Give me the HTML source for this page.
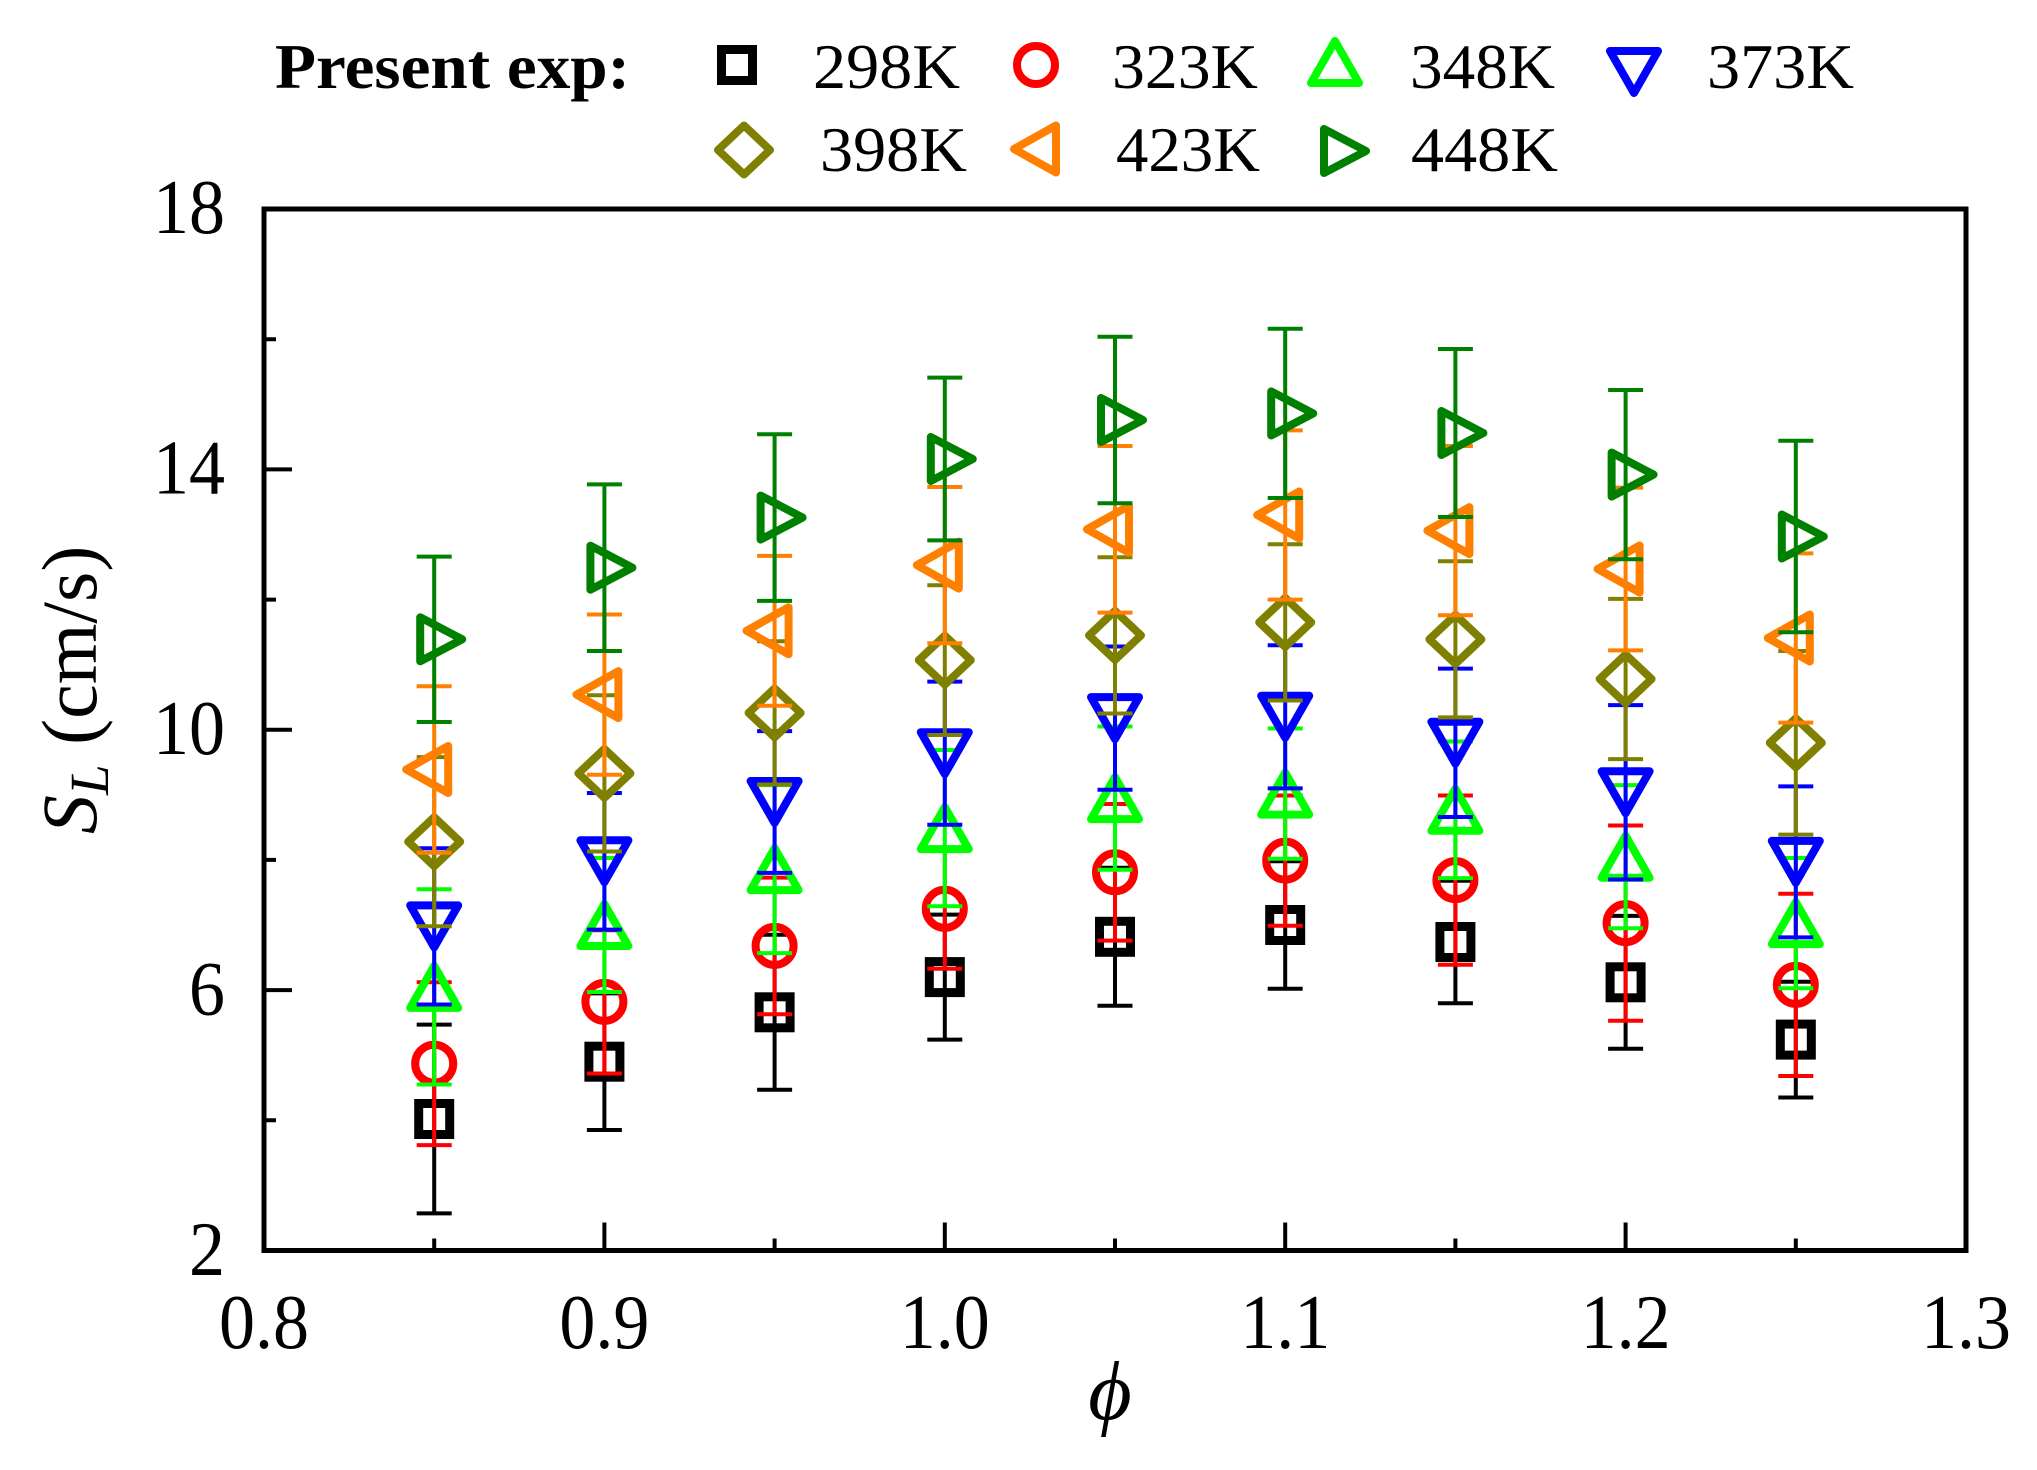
<!DOCTYPE html>
<html>
<head>
<meta charset="utf-8">
<style>
html,body{margin:0;padding:0;background:#fff;}
svg{display:block;}
text{font-family:"Liberation Serif","Times New Roman",serif;fill:#000;}
</style>
</head>
<body>
<svg width="2037" height="1470" viewBox="0 0 2037 1470" xmlns="http://www.w3.org/2000/svg" xmlns:xlink="http://www.w3.org/1999/xlink">
<defs>
  <g id="sq"><rect x="-15.5" y="-15.5" width="31" height="31" fill="none" stroke="#000" stroke-width="9"/></g>
  <g id="ci"><circle cx="0" cy="0" r="19" fill="none" stroke="#ff0000" stroke-width="8"/></g>
  <g id="tu"><polygon points="-24,21 24,21 0,-21" fill="none" stroke="#00ff00" stroke-width="8" stroke-linejoin="round"/></g>
  <g id="td"><polygon points="-24,-21 24,-21 0,21" fill="none" stroke="#0000ff" stroke-width="8" stroke-linejoin="round"/></g>
  <g id="di"><polygon points="0,-24.5 26,0 0,24.5 -26,0" fill="none" stroke="#808000" stroke-width="8" stroke-linejoin="round"/></g>
  <g id="tl"><polygon points="-28,0 14,-23.5 14,23.5" fill="none" stroke="#ff8000" stroke-width="8" stroke-linejoin="round"/></g>
  <g id="tr"><polygon points="-14,-22 -14,22 28,0" fill="none" stroke="#008000" stroke-width="8" stroke-linejoin="round"/></g>
</defs>

<rect x="0" y="0" width="2037" height="1470" fill="#fff"/>

<!-- Legend -->
<text x="275" y="88" font-size="64" font-weight="bold" textLength="355" lengthAdjust="spacingAndGlyphs">Present exp:</text>
<use href="#sq" xlink:href="#sq" x="737" y="65"/>
<text x="813" y="88" font-size="64" textLength="147" lengthAdjust="spacingAndGlyphs">298K</text>
<use href="#ci" xlink:href="#ci" x="1036" y="65"/>
<text x="1112" y="88" font-size="64" textLength="146" lengthAdjust="spacingAndGlyphs">323K</text>
<use href="#tu" xlink:href="#tu" x="1335" y="62"/>
<text x="1410" y="88" font-size="64" textLength="145" lengthAdjust="spacingAndGlyphs">348K</text>
<use href="#td" xlink:href="#td" x="1634" y="72"/>
<text x="1707" y="88" font-size="64" textLength="147" lengthAdjust="spacingAndGlyphs">373K</text>

<use href="#di" xlink:href="#di" x="744" y="150"/>
<text x="820" y="171" font-size="64" textLength="147" lengthAdjust="spacingAndGlyphs">398K</text>
<use href="#tl" xlink:href="#tl" x="1042" y="149"/>
<text x="1116" y="171" font-size="64" textLength="144" lengthAdjust="spacingAndGlyphs">423K</text>
<use href="#tr" xlink:href="#tr" x="1338" y="151"/>
<text x="1411" y="171" font-size="64" textLength="147" lengthAdjust="spacingAndGlyphs">448K</text>

<!-- Ticks -->
<g stroke="#000" stroke-width="4" fill="none">
  <path d="M604.4 1250.5v-28M944.8 1250.5v-28M1285.2 1250.5v-28M1625.6 1250.5v-28"/>
  <path d="M434.2 1250.5v-12M774.6 1250.5v-12M1115 1250.5v-12M1455.4 1250.5v-12M1795.8 1250.5v-12"/>
  <path d="M264 469.4h28M264 729.7h28M264 990.1h28"/>
  <path d="M264 339.2h12M264 599.6h12M264 859.9h12M264 1120.3h12"/>
</g>

<!-- Frame -->
<rect x="264" y="209" width="1702" height="1041.5" fill="none" stroke="#000" stroke-width="5"/>

<!-- Tick labels -->
<g font-size="72" text-anchor="end">
  <text transform="translate(225,233) scale(1,1.07)">18</text>
  <text transform="translate(225,493.5) scale(1,1.07)">14</text>
  <text transform="translate(225,754) scale(1,1.07)">10</text>
  <text transform="translate(225,1014.5) scale(1,1.07)">6</text>
  <text transform="translate(225,1275) scale(1,1.07)">2</text>
</g>
<g font-size="72" text-anchor="middle">
  <text transform="translate(264,1348) scale(1,1.07)">0.8</text>
  <text transform="translate(604.4,1348) scale(1,1.07)">0.9</text>
  <text transform="translate(944.8,1348) scale(1,1.07)">1.0</text>
  <text transform="translate(1285.2,1348) scale(1,1.07)">1.1</text>
  <text transform="translate(1625.6,1348) scale(1,1.07)">1.2</text>
  <text transform="translate(1966,1348) scale(1,1.07)">1.3</text>
</g>

<!-- Axis titles -->
<text transform="translate(96,834) rotate(-90)" font-size="78"><tspan font-style="italic">S</tspan><tspan font-style="italic" font-size="55" dy="12">L</tspan><tspan dy="-12"> (cm/s)</tspan></text>
<text x="1110" y="1419" font-size="84" font-style="italic" text-anchor="middle">ϕ</text>

<!-- 298K -->
<path stroke="#000" stroke-width="4" fill="none" d="M434.2 1024.6V1213.4M416.7 1024.6h35M416.7 1213.4h35M604.4 993.4V1130M586.9 993.4h35M586.9 1130h35M774.6 934.8V1089.8M757.1 934.8h35M757.1 1089.8h35M944.8 914.6V1039.6M927.3 914.6h35M927.3 1039.6h35M1115 867.8V1005.8M1097.5 867.8h35M1097.5 1005.8h35M1285.2 861.2V988.8M1267.7 861.2h35M1267.7 988.8h35M1455.4 880.8V1003.2M1437.9 880.8h35M1437.9 1003.2h35M1625.6 915.9V1048.7M1608.1 915.9h35M1608.1 1048.7h35M1795.8 981.7V1097.5M1778.3 981.7h35M1778.3 1097.5h35"/>
<use href="#sq" xlink:href="#sq" x="434.2" y="1119"/>
<use href="#sq" xlink:href="#sq" x="604.4" y="1061.7"/>
<use href="#sq" xlink:href="#sq" x="774.6" y="1012.3"/>
<use href="#sq" xlink:href="#sq" x="944.8" y="977.1"/>
<use href="#sq" xlink:href="#sq" x="1115" y="936.8"/>
<use href="#sq" xlink:href="#sq" x="1285.2" y="925"/>
<use href="#sq" xlink:href="#sq" x="1455.4" y="942"/>
<use href="#sq" xlink:href="#sq" x="1625.6" y="982.3"/>
<use href="#sq" xlink:href="#sq" x="1795.8" y="1039.6"/>

<!-- 323K -->
<path stroke="#ff0000" stroke-width="4" fill="none" d="M434.2 982.3V1145.1M416.7 982.3h35M416.7 1145.1h35M604.4 930.3V1073.5M586.9 930.3h35M586.9 1073.5h35M774.6 877.6V1014.2M757.1 877.6h35M757.1 1014.2h35M944.8 848.9V968.7M927.3 848.9h35M927.3 968.7h35M1115 804V940.6M1097.5 804h35M1097.5 940.6h35M1285.2 795.5V925.7M1267.7 795.5h35M1267.7 925.7h35M1455.4 795.5V964.7M1437.9 795.5h35M1437.9 964.7h35M1625.6 825.5V1020.7M1608.1 825.5h35M1608.1 1020.7h35M1795.8 893.8V1076M1778.3 893.8h35M1778.3 1076h35"/>
<use href="#ci" xlink:href="#ci" x="434.2" y="1063.7"/>
<use href="#ci" xlink:href="#ci" x="604.4" y="1001.9"/>
<use href="#ci" xlink:href="#ci" x="774.6" y="945.9"/>
<use href="#ci" xlink:href="#ci" x="944.8" y="908.8"/>
<use href="#ci" xlink:href="#ci" x="1115" y="872.3"/>
<use href="#ci" xlink:href="#ci" x="1285.2" y="860.6"/>
<use href="#ci" xlink:href="#ci" x="1455.4" y="880.1"/>
<use href="#ci" xlink:href="#ci" x="1625.6" y="923.1"/>
<use href="#ci" xlink:href="#ci" x="1795.8" y="984.9"/>

<!-- 348K -->
<path stroke="#00ff00" stroke-width="4" fill="none" d="M434.2 889.3V1084.5M416.7 889.3h35M416.7 1084.5h35M604.4 858V992M586.9 858h35M586.9 992h35M774.6 785.1V953.1M757.1 785.1h35M757.1 953.1h35M944.8 750V906.2M927.3 750h35M927.3 906.2h35M1115 726.5V869.7M1097.5 726.5h35M1097.5 869.7h35M1285.2 728.5V858.7M1267.7 728.5h35M1267.7 858.7h35M1455.4 741.5V878.1M1437.9 741.5h35M1437.9 878.1h35M1625.6 785.1V928.3M1608.1 785.1h35M1608.1 928.3h35M1795.8 858V988.2M1778.3 858h35M1778.3 988.2h35"/>
<use href="#tu" xlink:href="#tu" x="434.2" y="986.9"/>
<use href="#tu" xlink:href="#tu" x="604.4" y="925"/>
<use href="#tu" xlink:href="#tu" x="774.6" y="869.1"/>
<use href="#tu" xlink:href="#tu" x="944.8" y="828.1"/>
<use href="#tu" xlink:href="#tu" x="1115" y="798.1"/>
<use href="#tu" xlink:href="#tu" x="1285.2" y="793.6"/>
<use href="#tu" xlink:href="#tu" x="1455.4" y="809.8"/>
<use href="#tu" xlink:href="#tu" x="1625.6" y="856.7"/>
<use href="#tu" xlink:href="#tu" x="1795.8" y="923.1"/>

<!-- 373K -->
<path stroke="#0000ff" stroke-width="4" fill="none" d="M434.2 848.3V1004.5M416.7 848.3h35M416.7 1004.5h35M604.4 793V929.6M586.9 793h35M586.9 929.6h35M774.6 731.1V872.9M757.1 731.1h35M757.1 872.9h35M944.8 681.6V824.8M927.3 681.6h35M927.3 824.8h35M1115 646.5V789.7M1097.5 646.5h35M1097.5 789.7h35M1285.2 645.2V788.4M1267.7 645.2h35M1267.7 788.4h35M1455.4 668.6V817M1437.9 668.6h35M1437.9 817h35M1625.6 705.1V879.5M1608.1 705.1h35M1608.1 879.5h35M1795.8 786.4V937.4M1778.3 786.4h35M1778.3 937.4h35"/>
<use href="#td" xlink:href="#td" x="434.2" y="926.4"/>
<use href="#td" xlink:href="#td" x="604.4" y="861.3"/>
<use href="#td" xlink:href="#td" x="774.6" y="802"/>
<use href="#td" xlink:href="#td" x="944.8" y="753.2"/>
<use href="#td" xlink:href="#td" x="1115" y="718.1"/>
<use href="#td" xlink:href="#td" x="1285.2" y="716.8"/>
<use href="#td" xlink:href="#td" x="1455.4" y="742.8"/>
<use href="#td" xlink:href="#td" x="1625.6" y="792.3"/>
<use href="#td" xlink:href="#td" x="1795.8" y="861.9"/>

<!-- 398K -->
<path stroke="#808000" stroke-width="4" fill="none" d="M434.2 757.1V926.3M416.7 757.1h35M416.7 926.3h35M604.4 695.3V851.5M586.9 695.3h35M586.9 851.5h35M774.6 641.3V784.5M757.1 641.3h35M757.1 784.5h35M944.8 585.2V735M927.3 585.2h35M927.3 735h35M1115 557.3V713.5M1097.5 557.3h35M1097.5 713.5h35M1285.2 544.3V700.5M1267.7 544.3h35M1267.7 700.5h35M1455.4 561.2V717.4M1437.9 561.2h35M1437.9 717.4h35M1625.6 598.9V759.1M1608.1 598.9h35M1608.1 759.1h35M1795.8 651V834.6M1778.3 651h35M1778.3 834.6h35"/>
<use href="#di" xlink:href="#di" x="434.2" y="841.7"/>
<use href="#di" xlink:href="#di" x="604.4" y="773.4"/>
<use href="#di" xlink:href="#di" x="774.6" y="712.9"/>
<use href="#di" xlink:href="#di" x="944.8" y="660.1"/>
<use href="#di" xlink:href="#di" x="1115" y="635.4"/>
<use href="#di" xlink:href="#di" x="1285.2" y="622.4"/>
<use href="#di" xlink:href="#di" x="1455.4" y="639.3"/>
<use href="#di" xlink:href="#di" x="1625.6" y="679"/>
<use href="#di" xlink:href="#di" x="1795.8" y="742.8"/>

<!-- 423K -->
<path stroke="#ff8000" stroke-width="4" fill="none" d="M434.2 686.2V852.8M416.7 686.2h35M416.7 852.8h35M604.4 614.5V774.7M586.9 614.5h35M586.9 774.7h35M774.6 555.9V705.7M757.1 555.9h35M757.1 705.7h35M944.8 487V643.2M927.3 487h35M927.3 643.2h35M1115 446V612.6M1097.5 446h35M1097.5 612.6h35M1285.2 430.4V599.6M1267.7 430.4h35M1267.7 599.6h35M1455.4 446V615.2M1437.9 446h35M1437.9 615.2h35M1625.6 487.6V650.4M1608.1 487.6h35M1608.1 650.4h35M1795.8 553.4V722.6M1778.3 553.4h35M1778.3 722.6h35"/>
<use href="#tl" xlink:href="#tl" x="434.2" y="769.5"/>
<use href="#tl" xlink:href="#tl" x="604.4" y="694.6"/>
<use href="#tl" xlink:href="#tl" x="774.6" y="630.8"/>
<use href="#tl" xlink:href="#tl" x="944.8" y="565.1"/>
<use href="#tl" xlink:href="#tl" x="1115" y="529.3"/>
<use href="#tl" xlink:href="#tl" x="1285.2" y="515"/>
<use href="#tl" xlink:href="#tl" x="1455.4" y="530.6"/>
<use href="#tl" xlink:href="#tl" x="1625.6" y="569"/>
<use href="#tl" xlink:href="#tl" x="1795.8" y="638"/>

<!-- 448K -->
<path stroke="#008000" stroke-width="4" fill="none" d="M434.2 556.6V722M416.7 556.6h35M416.7 722h35M604.4 484.4V651M586.9 484.4h35M586.9 651h35M774.6 434.3V600.9M757.1 434.3h35M757.1 600.9h35M944.8 377.6V540.4M927.3 377.6h35M927.3 540.4h35M1115 336.7V503.3M1097.5 336.7h35M1097.5 503.3h35M1285.2 328.8V498M1267.7 328.8h35M1267.7 498h35M1455.4 349V517M1437.9 349h35M1437.9 517h35M1625.6 390V559.2M1608.1 390h35M1608.1 559.2h35M1795.8 440.8V632.2M1778.3 440.8h35M1778.3 632.2h35"/>
<use href="#tr" xlink:href="#tr" x="434.2" y="639.3"/>
<use href="#tr" xlink:href="#tr" x="604.4" y="567.7"/>
<use href="#tr" xlink:href="#tr" x="774.6" y="517.6"/>
<use href="#tr" xlink:href="#tr" x="944.8" y="459"/>
<use href="#tr" xlink:href="#tr" x="1115" y="420"/>
<use href="#tr" xlink:href="#tr" x="1285.2" y="413.4"/>
<use href="#tr" xlink:href="#tr" x="1455.4" y="433"/>
<use href="#tr" xlink:href="#tr" x="1625.6" y="474.6"/>
<use href="#tr" xlink:href="#tr" x="1795.8" y="536.5"/>

</svg>
</body>
</html>
